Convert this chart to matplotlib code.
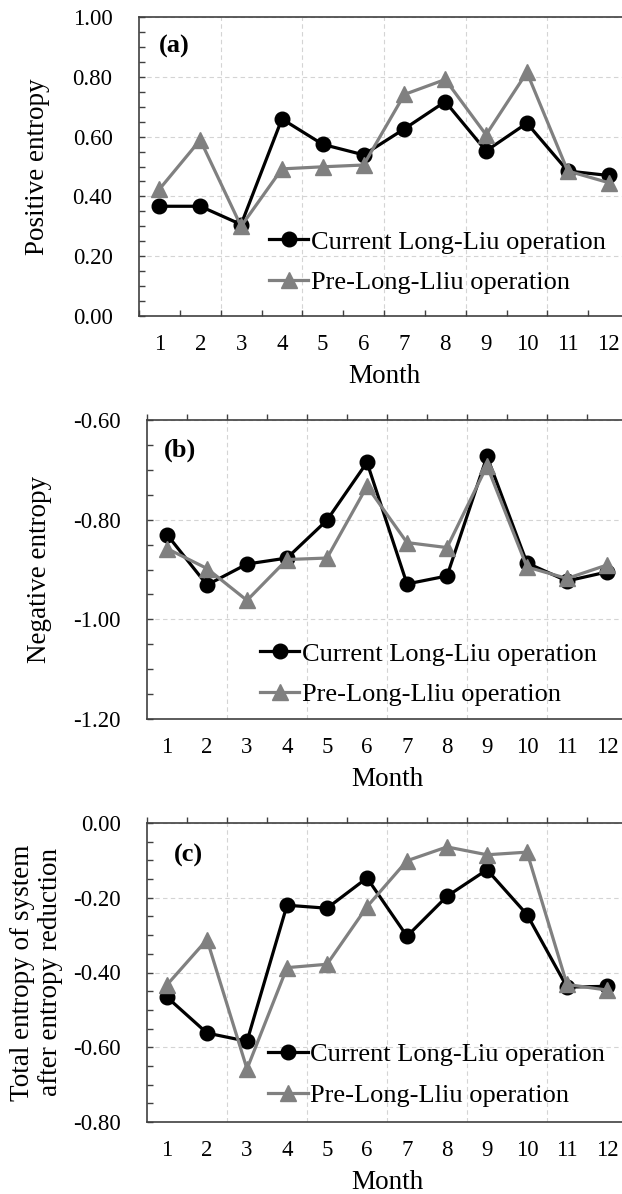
import matplotlib
matplotlib.use('Agg')
import matplotlib.pyplot as plt
import numpy as np
from matplotlib.ticker import MultipleLocator, FixedLocator, FormatStrFormatter

plt.rcParams['font.family'] = ['Liberation Serif', 'DejaVu Serif']

months = np.arange(1, 13)
month_labels = [str(m) for m in months]
series_names = ['Current Long-Liu operation', 'Pre-Long-Lliu operation']

# (a) positive entropy
pos_current = [0.367, 0.367, 0.306, 0.659, 0.574, 0.539, 0.626, 0.717, 0.552, 0.645, 0.485, 0.470]
pos_pre = [0.424, 0.589, 0.300, 0.492, 0.499, 0.505, 0.741, 0.791, 0.606, 0.815, 0.485, 0.446]

# (b) negative entropy
neg_current = [-0.830, -0.931, -0.889, -0.877, -0.801, -0.685, -0.929, -0.913, -0.673, -0.887, -0.923, -0.905]
neg_pre = [-0.858, -0.898, -0.962, -0.880, -0.877, -0.733, -0.846, -0.856, -0.692, -0.895, -0.918, -0.891]

# (c) total entropy after entropy reduction
tot_current = [-0.466, -0.562, -0.584, -0.220, -0.228, -0.147, -0.303, -0.196, -0.125, -0.245, -0.439, -0.437]
tot_pre = [-0.433, -0.312, -0.658, -0.387, -0.378, -0.224, -0.101, -0.064, -0.085, -0.078, -0.432, -0.447]

panels = [
    dict(tag='(a)', cur=pos_current, pre=pos_pre, ylim=(0.0, 1.0), ylabel='Positive entropy',
         rect=[139/622, 1 - 316/1194, 490/622, 299/1194], top_ticks=False,
         tag_xy=(0.04, 0.90), leg_xy=(0.265, 0.18), ylab_x=-0.182),
    dict(tag='(b)', cur=neg_current, pre=neg_pre, ylim=(-1.2, -0.6), ylabel='Negative entropy',
         rect=[147/622, 1 - 719/1194, 480/622, 299/1194], top_ticks=True,
         tag_xy=(0.035, 0.90), leg_xy=(0.235, 0.15), ylab_x=-0.198),
    dict(tag='(c)', cur=tot_current, pre=tot_pre, ylim=(-0.8, 0.0),
         ylabel='Total entropy of system\nafter entropy reduction',
         rect=[147/622, 1 - 1122/1194, 480/622, 299/1194], top_ticks=True,
         tag_xy=(0.055, 0.89), leg_xy=(0.252, 0.157), ylab_x=-0.175),
]

fig = plt.figure(figsize=(6.22, 11.94), dpi=100)
spine_col = '#404040'
grid_col = '#d4d4d4'

for p in panels:
    ax = fig.add_axes(p['rect'])
    ax.plot(months, p['cur'], color='black', lw=2.3, marker='o', ms=10.5,
            label=series_names[0], zorder=3)
    ax.plot(months, p['pre'], color='#808080', lw=2.3, marker='^', ms=11,
            label=series_names[1], zorder=4)

    ax.set_xlim(0.5, 12.5)
    ax.set_ylim(*p['ylim'])

    # y axis
    ax.yaxis.set_major_locator(MultipleLocator(0.2))
    ax.yaxis.set_minor_locator(MultipleLocator(0.05))
    ax.yaxis.set_major_formatter(FormatStrFormatter('%.2f'))
    ax.tick_params(axis='y', which='both', direction='in', length=4.5, width=1,
                   color=spine_col, labelsize=16.5, pad=19)
    ax.yaxis.grid(True, which='major', ls=(0, (4, 3)), color=grid_col, lw=0.8)
    for xv in np.arange(2.5, 12, 2):
        ax.axvline(xv, ls=(0, (4, 3)), color=grid_col, lw=0.8, zorder=0)

    # x axis: labels at month centres, tick marks on category boundaries
    ax.xaxis.set_major_locator(FixedLocator(months))
    ax.set_xticklabels(month_labels)
    ax.xaxis.set_minor_locator(FixedLocator(np.arange(0.5, 13, 1)))
    ax.tick_params(axis='x', which='major', length=0, labelsize=16.5, pad=13)
    if p['top_ticks']:
        ax.tick_params(axis='x', which='minor', bottom=False, top=True,
                       direction='out', length=4.5, width=1, color=spine_col)
    else:
        ax.tick_params(axis='x', which='minor', bottom=True, top=False,
                       direction='in', length=4.5, width=1, color=spine_col)

    for s in ax.spines.values():
        s.set_color(spine_col)
        s.set_linewidth(1.2)

    ax.set_xlabel('Month', fontsize=19.5)
    ax.xaxis.set_label_coords(0.5, -0.16)
    ax.set_ylabel(p['ylabel'], fontsize=19.5, linespacing=1.15)
    ax.yaxis.set_label_coords(p['ylab_x'], 0.5)

    ax.text(p['tag_xy'][0], p['tag_xy'][1], p['tag'], transform=ax.transAxes,
            fontsize=19, fontweight='bold', va='center', ha='left')

    ax.legend(loc='center left', bbox_to_anchor=p['leg_xy'], frameon=False,
              fontsize=19, handlelength=1.5, handletextpad=0.1, borderpad=0,
              borderaxespad=0, labelspacing=0.65)

fig.savefig('out.png', dpi=100)
plt.close(fig)
